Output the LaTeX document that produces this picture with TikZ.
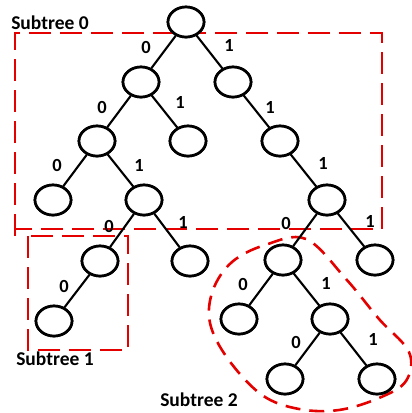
\documentclass[tikz,border=0pt]{standalone}
\usepackage{fontspec}
\setmainfont{Carlito}
\usetikzlibrary{shapes.geometric}
\tikzset{
  tn/.style={draw=black, line width=2.7pt, fill=white, ellipse, minimum width=36pt, minimum height=30pt, inner sep=0pt},
  edge/.style={draw=black, line width=2.1pt},
  lbl/.style={font=\fontsize{18.5}{18.5}\selectfont\bfseries, inner sep=0pt},
  ttl/.style={font=\fontsize{19.5}{20}\selectfont\bfseries, inner sep=0pt},
  reddash/.style={draw=red!90!black, line width=2.6pt, dash pattern=on 22pt off 9pt},
  reddash2/.style={draw=red!90!black, line width=2.6pt, dash pattern=on 15pt off 9pt},
}
\begin{document}
\begin{tikzpicture}[x=1pt, y=-1pt]
\useasboundingbox (0,0) rectangle (412,413);
% dashed regions
\draw[reddash] (15,236) -- (15,33) -- (382,33) -- (382,229) -- (15,229);
\draw[reddash] (28,236) rectangle (128,350);
\draw[reddash2] plot[smooth cycle, tension=0.6] coordinates {(306,239) (346,279) (379,319) (409,352) (406,381) (379,398) (339,410) (299,409) (262,395) (228,359) (210,323) (213,290) (232,262) (265,245)};
% nodes
\node[tn] (r) at (186,22) {};
\node[tn] (a) at (141,82) {};
\node[tn] (b) at (233,82) {};
\node[tn] (aa) at (97,141) {};
\node[tn] (ab) at (188,141) {};
\node[tn] (bb) at (280,141) {};
\node[tn] (aaa) at (53,200) {};
\node[tn] (aab) at (144,200) {};
\node[tn] (bbb) at (327,200) {};
\node[tn] (c0) at (100,261) {};
\node[tn] (c1) at (190,261) {};
\node[tn] (d0) at (283,260) {};
\node[tn] (d1) at (375,260) {};
\node[tn] (c00) at (54,321) {};
\node[tn] (d00) at (239,319) {};
\node[tn] (d01) at (330,319) {};
\node[tn] (d010) at (285,379) {};
\node[tn] (d011) at (377,379) {};
% edges
\draw[edge] (r) -- (a);
\draw[edge] (r) -- (b);
\draw[edge] (a) -- (aa);
\draw[edge] (a) -- (ab);
\draw[edge] (b) -- (bb);
\draw[edge] (aa) -- (aaa);
\draw[edge] (aa) -- (aab);
\draw[edge] (bb) -- (bbb);
\draw[edge] (aab) -- (c0);
\draw[edge] (aab) -- (c1);
\draw[edge] (bbb) -- (d0);
\draw[edge] (bbb) -- (d1);
\draw[edge] (c0) -- (c00);
\draw[edge] (d0) -- (d00);
\draw[edge] (d0) -- (d01);
\draw[edge] (d01) -- (d010);
\draw[edge] (d01) -- (d011);
% redraw nodes over dashes
\foreach \n in {r,a,b,aa,ab,bb,aaa,aab,bbb,c0,c1,d0,d1,c00,d00,d01,d010,d011}{
  \node[tn] at (\n) {};
}
% labels
\node[lbl] (l1) at (146,47) {0};
\node[lbl] (l2) at (229,45) {1};
\node[lbl] (l3) at (102,107) {0};
\node[lbl] (l4) at (180,102) {1};
\node[lbl] (l5) at (270,107) {1};
\node[lbl] (l6) at (57,165) {0};
\node[lbl] (l7) at (139,165) {1};
\node[lbl] (l8) at (323,163) {1};
\node[lbl] (l9) at (109,226) {0};
\node[lbl] (l10) at (183,222) {1};
\node[lbl] (l11) at (286,223) {0};
\node[lbl] (l12) at (370,221) {1};
\node[lbl] (l13) at (64,286) {0};
\node[lbl] (l14) at (243,284) {0};
\node[lbl] (l15) at (326,283) {1};
\node[lbl] (l16) at (296,342) {0};
\node[lbl] (l17) at (373,339) {1};
\node[ttl] (t0) at (50,23) {Subtree 0};
\node[ttl] (t1) at (55,359) {Subtree 1};
\node[ttl] (t2) at (199,400) {Subtree 2};
\end{tikzpicture}
\end{document}
